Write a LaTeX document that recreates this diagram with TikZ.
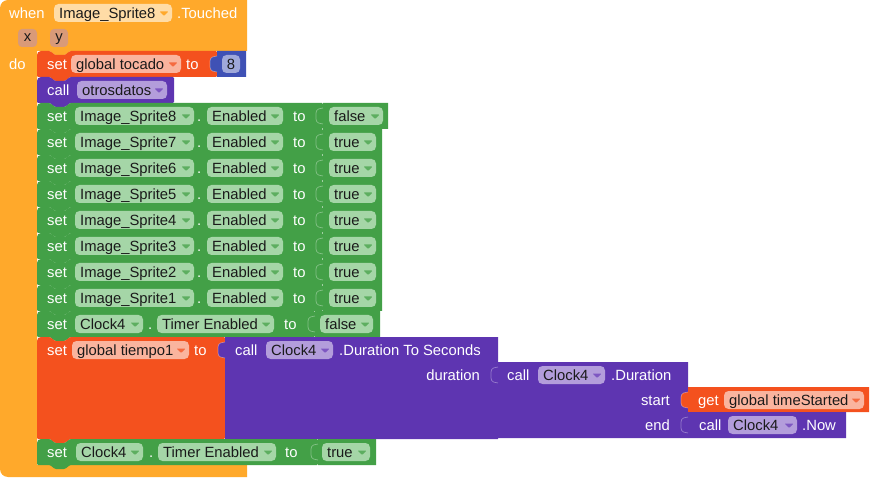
\documentclass[tikz,border=0pt]{standalone}
\usepackage{fontspec}
\setmainfont{Liberation Sans}
\definecolor{evO}{HTML}{FFA92B}
\definecolor{evF}{HTML}{FFDCA6}
\definecolor{xyF}{HTML}{D99A78}
\definecolor{varO}{HTML}{F4511E}
\definecolor{varF}{HTML}{FAB49E}
\definecolor{varA}{HTML}{F56A40}
\definecolor{prP}{HTML}{5E35B1}
\definecolor{prF}{HTML}{B39DDB}
\definecolor{prA}{HTML}{7E57C2}
\definecolor{gnG}{HTML}{43A047}
\definecolor{gnF}{HTML}{A5D6A7}
\definecolor{gnA}{HTML}{5DAE60}
\definecolor{mbB}{HTML}{3F51B5}
\definecolor{mbF}{HTML}{9FA8DA}
\definecolor{ftx}{HTML}{1A1A1A}
\newcommand{\blkfont}{\fontsize{14.8}{16}\selectfont}
\tikzset{
  wtext/.style={anchor=base west,inner sep=0pt,text=white,font=\blkfont},
  rtext/.style={anchor=base east,inner sep=0pt,text=white,font=\blkfont},
  ftext/.style={anchor=base west,inner sep=0pt,text=ftx,font=\blkfont},
  ctext/.style={anchor=base,inner sep=0pt,text=ftx,font=\blkfont},
  tabline/.style={draw=white,draw opacity=.35,line width=.7pt},
}
% statement block: x1 x2 top bottom colour
\newcommand{\stm}[5]{%
  \fill[#5] (#1,#3+12) [rounded corners=4pt] -- (#1,#3) -- (#1+8,#3)
    [rounded corners=1.2pt] -- (#1+13,#3) -- (#1+18,#3+4) -- (#1+28,#3+4) -- (#1+33,#3)
    -- (#2,#3) -- (#2,#4) -- (#1+33,#4) -- (#1+28,#4+4) -- (#1+18,#4+4) -- (#1+13,#4)
    -- (#1,#4) -- cycle;}
% value block: x1 x2 top bottom colour
\newcommand{\vlb}[5]{%
  \fill[#5] (#1,#3) -- (#2,#3) -- (#2,#4) -- (#1,#4) -- (#1,#3+21)
    .. controls (#1-3,#3+21) and (#1-7,#3+20) .. (#1-7,#3+16) -- (#1-7,#3+10)
    .. controls (#1-7,#3+6) and (#1-3,#3+5) .. (#1,#3+5) -- cycle;
  \draw[tabline] (#1,#3+21)
    .. controls (#1-3,#3+21) and (#1-7,#3+20) .. (#1-7,#3+16) -- (#1-7,#3+10)
    .. controls (#1-7,#3+6) and (#1-3,#3+5) .. (#1,#3+5);}
% dropdown field: name x1 x2 rowtop fill text arrowcolour
\newcommand{\fldA}[7]{%
  \fill[#5,rounded corners=4.5pt] (#2,#4+4) rectangle (#3,#4+22);
  \node[ftext] (#1) at (#2+5,#4+18.3) {#6};
  \fill[#7,rounded corners=0.8pt] (#3-12.5,#4+11.5) -- (#3-3.5,#4+11.5) -- (#3-8,#4+16) -- cycle;}
% white label: name x rowtop text
\newcommand{\lbl}[4]{\node[wtext] (#1) at (#2,#3+18.3) {#4};}
\newcommand{\rlbl}[4]{\node[rtext] (#1) at (#2,#3+18.3) {#4};}
\begin{document}
\begin{tikzpicture}[x=1pt,y=-1pt]
\useasboundingbox (0,0) rectangle (870,478);
% event block
\fill[evO] (0,240) [rounded corners=8pt] -- (0,0) -- (120,0) [sharp corners] -- (247,0) -- (247,51)
  [rounded corners=1.2pt] -- (70,51) -- (65,55) -- (55,55) -- (50,51) [sharp corners] -- (37,51)
  -- (37,465) -- (247,465) -- (247,477) -- (120,477) [rounded corners=8pt] -- (0,477) -- (0,240) -- cycle;
\lbl{when}{9}{0}{when}
\fldA{evsprite}{54}{172}{0}{evF}{Image\_Sprite8}{evO}
\lbl{touched}{177}{0}{.Touched}
\fill[xyF,rounded corners=4pt] (18,29) rectangle (37,47);
\node[ctext] (px) at (27.5,42) {x};
\fill[xyF,rounded corners=4pt] (50,29) rectangle (68,47);
\node[ctext] (py) at (59,42) {y};
\lbl{do}{9}{51}{do}
% set global tocado to 8
\stm{37}{217}{51}{77}{varO}
\lbl{s1}{47}{51}{set}
\fldA{tocado}{71}{181}{51}{varF}{global tocado}{varA}
\lbl{to1}{186}{51}{to}
\vlb{217}{246}{51}{77}{mbB}
\fill[mbF,rounded corners=4.5pt] (222,55) rectangle (240,73);
\node[ctext] (eight) at (231,69.3) {8};
% call otrosdatos
\stm{37}{174}{77}{103}{prP}
\lbl{c1}{47}{77}{call}
\fldA{otros}{77}{167}{77}{prF}{otrosdatos}{prA}
% sprites
\foreach \k/\v/\vx/\fx [count=\i from 0] in {8/false/388/383,7/true/382/376,6/true/382/376,5/true/382/376,4/true/382/376,3/true/382/376,2/true/382/376,1/true/382/376}{
  \pgfmathsetmacro\t{103+26*\i}
  \pgfmathsetmacro\b{129+26*\i}
  \stm{37}{323}{\t}{\b}{gnG}
  \lbl{set\k}{47}{\t}{set}
  \fldA{spr\k}{75}{194}{\t}{gnF}{Image\_Sprite\k}{gnA}
  \lbl{dot\k}{197}{\t}{.}
  \fldA{en\k}{207}{283}{\t}{gnF}{Enabled}{gnA}
  \lbl{to\k}{293}{\t}{to}
  \vlb{323}{\vx}{\t}{\b}{gnG}
  \fldA{val\k}{329}{\fx}{\t}{gnF}{\v}{gnA}
}
% Clock4 timer false
\stm{37}{315}{311}{337}{gnG}
\lbl{sc1}{47}{311}{set}
\fldA{clkA}{75}{143}{311}{gnF}{Clock4}{gnA}
\lbl{dotA}{148}{311}{.}
\fldA{teA}{157}{274}{311}{gnF}{Timer Enabled}{gnA}
\lbl{toA}{284}{311}{to}
\vlb{315}{380}{311}{337}{gnG}
\fldA{valA}{320}{373}{311}{gnF}{false}{gnA}
% set global tiempo1
\stm{37}{225}{337}{439}{varO}
\lbl{st}{47}{337}{set}
\fldA{tiempo}{72}{189}{337}{varF}{global tiempo1}{varA}
\lbl{tot}{194}{337}{to}
\vlb{225}{498}{337}{439}{prP}
\lbl{cds}{235}{337}{call}
\fldA{clkB}{266}{333}{337}{prF}{Clock4}{prA}
\lbl{dts}{339}{337}{.Duration To Seconds}
\rlbl{durlbl}{480}{362}{duration}
\vlb{498}{688}{362}{438}{prP}
\lbl{cdu}{507}{362}{call}
\fldA{clkC}{538}{605}{362}{prF}{Clock4}{prA}
\lbl{dur}{611}{362}{.Duration}
\rlbl{start}{670}{387}{start}
\rlbl{end}{670}{412}{end}
\vlb{688}{869}{387}{412}{varO}
\lbl{get}{698}{387}{get}
\fldA{tstart}{724}{864}{387}{varF}{global timeStarted}{varA}
\vlb{688}{846}{412}{438}{prP}
\lbl{cnow}{699}{412}{call}
\fldA{clkD}{728}{797}{412}{prF}{Clock4}{prA}
\lbl{now}{802}{412}{.Now}
% Clock4 timer true
\stm{37}{318}{439}{465}{gnG}
\lbl{sc2}{47}{439}{set}
\fldA{clkE}{76}{143}{439}{gnF}{Clock4}{gnA}
\lbl{dotB}{149}{439}{.}
\fldA{teB}{158}{276}{439}{gnF}{Timer Enabled}{gnA}
\lbl{toB}{285}{439}{to}
\vlb{318}{376}{439}{465}{gnG}
\fldA{valB}{322}{370}{439}{gnF}{true}{gnA}
\end{tikzpicture}
\end{document}
